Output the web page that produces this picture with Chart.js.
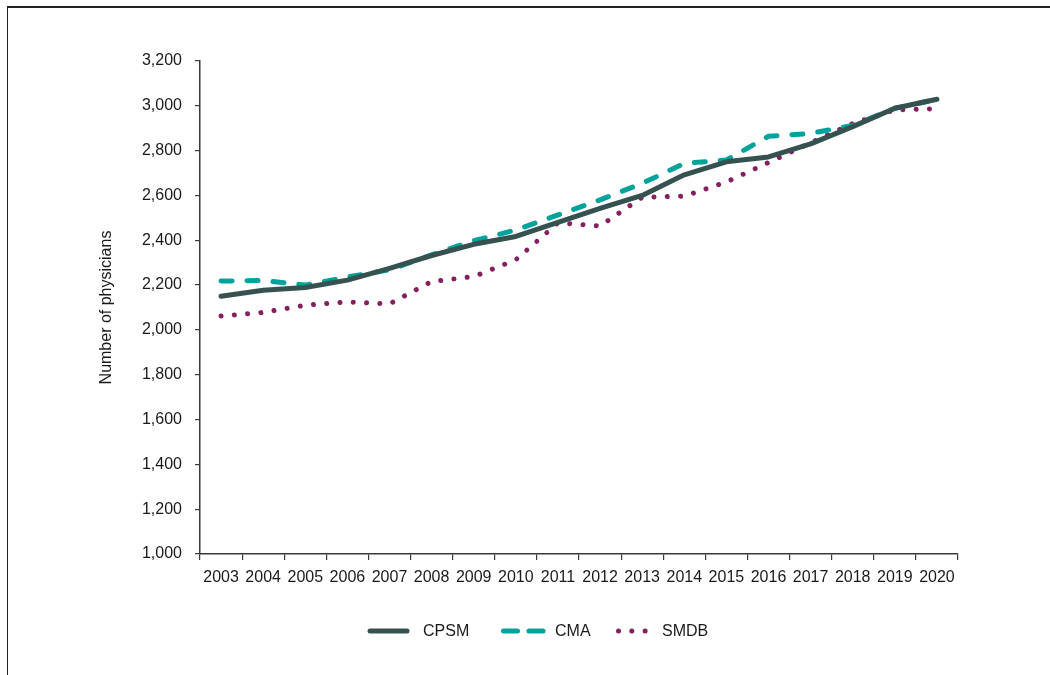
<!DOCTYPE html>
<html><head><meta charset="utf-8">
<script src="https://cdn.jsdelivr.net/npm/chart.js@4.4.1/dist/chart.umd.min.js"></script>
<style>
html,body{margin:0;padding:0;background:#fff;}
#wrap{position:relative;width:1050px;height:675px;overflow:hidden;background:#fff;}
#frame{position:absolute;left:7px;top:6px;width:1100px;height:700px;border-top:2px solid #222;border-left:1.5px solid #222;pointer-events:none;}
canvas{position:absolute;left:0;top:0;}
</style></head><body>
<div id="wrap"><canvas id="c" width="1050" height="675"></canvas><div id="frame"></div></div>
<script>
const years = ['2003','2004','2005','2006','2007','2008','2009','2010','2011','2012','2013','2014','2015','2016','2017','2018','2019','2020'];
const seriesNames = ['CPSM', 'CMA', 'SMDB'];
const cpsm = [2150, 2177, 2189, 2222, 2275, 2332, 2382, 2417, 2480, 2542, 2600, 2692, 2750, 2772, 2830, 2907, 2989, 3029];
const cma  = [2218, 2221, 2200, 2236, 2268, 2335, 2398, 2446, 2513, 2580, 2654, 2743, 2758, 2864, 2877, 2912, 2989, 3029];
const smdb = [2062, 2078, 2110, 2125, 2116, 2216, 2238, 2313, 2478, 2464, 2592, 2597, 2660, 2747, 2835, 2921, 2982, 2987];
const yMin = 1000, yMax = 3200, yStep = 200;
const yTitle = 'Number of physicians';

const COLORS = ['#365250', '#00a39b', '#85205e'];
const FONT = "'Liberation Sans', Arial, sans-serif";
const TEXT = '#1a1a1a';
const AXIS = '#3a3a3a';
Chart.defaults.font.family = FONT;
Chart.defaults.font.size = 16;
Chart.defaults.color = TEXT;

const legendPlugin = {
  id: 'customLegend',
  afterDraw(chart) {
    const ctx = chart.ctx;
    const y = 631;
    const items = [
      {seg: [370, 407], dash: [], text: 423},
      {seg: [503.5, 543.5], dash: [14, 11.5], text: 555},
      {seg: [618.5, 646], dash: [0.01, 13.3], text: 662}
    ];
    ctx.save();
    ctx.lineCap = 'round';
    ctx.lineWidth = 5;
    items.forEach((it, i) => {
      ctx.strokeStyle = COLORS[i];
      ctx.setLineDash(it.dash);
      ctx.beginPath();
      ctx.moveTo(it.seg[0], y);
      ctx.lineTo(it.seg[1], y);
      ctx.stroke();
      ctx.setLineDash([]);
      ctx.font = '16px ' + FONT;
      ctx.fillStyle = TEXT;
      ctx.textBaseline = 'middle';
      ctx.textAlign = 'left';
      ctx.fillText(seriesNames[i], it.text, y + 1);
    });
    ctx.restore();
  }
};

new Chart(document.getElementById('c'), {
  type: 'line',
  data: {
    labels: years,
    datasets: [
      {label: seriesNames[0], data: cpsm, borderColor: COLORS[0], borderWidth: 5, borderCapStyle: 'round', borderJoinStyle: 'round', pointRadius: 0, tension: 0, fill: false},
      {label: seriesNames[1], data: cma, borderColor: COLORS[1], borderWidth: 5, borderDash: [11, 15], borderCapStyle: 'round', borderJoinStyle: 'round', pointRadius: 0, tension: 0, fill: false},
      {label: seriesNames[2], data: smdb, borderColor: COLORS[2], borderWidth: 5, borderDash: [0.01, 13.3], borderCapStyle: 'round', borderJoinStyle: 'round', pointRadius: 0, tension: 0, fill: false}
    ]
  },
  options: {
    responsive: false,
    animation: false,
    devicePixelRatio: 1,
    layout: {padding: {left: 0, top: 61, right: 92, bottom: 0}},
    plugins: {legend: {display: false}, tooltip: {enabled: false}},
    scales: {
      x: {
        type: 'category',
        offset: true,
        grid: {display: true, drawOnChartArea: false, drawTicks: true, tickLength: 6, offset: true, color: AXIS, lineWidth: 1.2},
        border: {display: true, color: AXIS, width: 1.5},
        ticks: {padding: 8, maxRotation: 0, autoSkip: false, color: TEXT, font: {size: 16}},
        afterFit(s) { s.height = 121; }
      },
      y: {
        min: yMin, max: yMax,
        grid: {display: true, drawOnChartArea: false, drawTicks: true, tickLength: 5, color: AXIS, lineWidth: 1.2},
        border: {display: true, color: AXIS, width: 1.5},
        ticks: {stepSize: yStep, padding: 13, color: TEXT, font: {size: 16}, callback: v => Number(v).toLocaleString('en-US')},
        title: {display: true, text: yTitle, color: TEXT, font: {size: 16}, padding: {top: 97, bottom: 0}},
        afterFit(s) { s.width = 200; }
      }
    }
  },
  plugins: [legendPlugin]
});
</script>
</body></html>
